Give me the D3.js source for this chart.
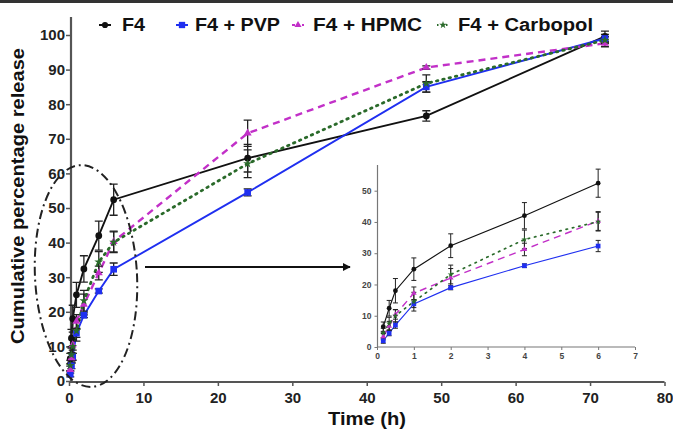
<!DOCTYPE html>
<html><head><meta charset="utf-8">
<script src="https://cdn.jsdelivr.net/npm/d3@7"></script>
<style>body{margin:0;background:#fff}svg{display:block;font-family:"Liberation Sans",Arial,sans-serif}</style>
</head><body><svg id="c" width="673" height="431"></svg>
<script>
const times = [0.17, 0.33, 0.5, 1, 2, 4, 6, 24, 48, 72];
const seriesNames = ["F4", "F4 + PVP", "F4 + HPMC", "F4 + Carbopol"];
const f4 = [6.5, 12.4, 18.0, 24.9, 32.4, 42.0, 52.4, 64.4, 76.6, 99.6];
const f4Err = [1.5, 2.5, 3.9, 3.6, 3.8, 4.2, 4.5, 4.0, 1.5, 1.5];
const pvp = [2.0, 4.4, 7.0, 13.8, 19.0, 26.0, 32.3, 54.5, 85.0, 99.0];
const pvpErr = [0.8, 0.8, 1.0, 1.2, 0.7, 0.6, 1.8, 1.0, 1.5, 1.2];
const hpmc = [3.3, 6.7, 10.4, 17.2, 22.1, 31.2, 40.3, 71.6, 90.6, 97.6];
const hpmcErr = [1.0, 1.5, 1.5, 2.0, 3.0, 2.0, 3.0, 3.8, 0.5, 1.0];
const carbopol = [4.5, 7.5, 10.0, 14.5, 23.2, 34.4, 40.1, 62.8, 86.0, 98.5];
const carbopolErr = [1.5, 2.0, 2.0, 3.0, 3.0, 3.0, 3.0, 4.0, 2.5, 1.0];
const xTicks = [0, 10, 20, 30, 40, 50, 60, 70, 80];
const yTicks = [0, 10, 20, 30, 40, 50, 60, 70, 80, 90, 100];
const insetXTicks = [0, 1, 2, 3, 4, 5, 6, 7];
const insetYTicks = [0, 10, 20, 30, 40, 50];

const styles = [
  {color:"#111111", sym:d3.symbolCircle, dash:null, lw:1.9},
  {color:"#1f2ff0", sym:d3.symbolSquare, dash:null, lw:1.9},
  {color:"#c230c8", sym:d3.symbolTriangle, dash:"7,5", lw:2.4},
  {color:"#2a6a2a", sym:d3.symbolStar, dash:"1.5,5", lw:2.8}
];
const series = [
  {vals:f4, err:f4Err}, {vals:pvp, err:pvpErr}, {vals:hpmc, err:hpmcErr}, {vals:carbopol, err:carbopolErr}
];

const svg = d3.select("#c");
svg.append("rect").attr("x",0).attr("y",0).attr("width",673).attr("height",3).attr("fill","#333");

const x = d3.scaleLinear().domain([0,80]).range([69,664.5]);
const y = d3.scaleLinear().domain([0,100]).range([381,35]);

const xAxisG = svg.append("g").attr("transform","translate(0,382)")
  .call(d3.axisBottom(x).tickValues(xTicks).tickSize(4).tickSizeOuter(0));
const yAxisG = svg.append("g").attr("transform","translate(71,0)")
  .call(d3.axisLeft(y).tickValues(yTicks).tickSize(5).tickSizeOuter(0));
[xAxisG, yAxisG].forEach(g=>{
  g.select(".domain").attr("stroke","#555").attr("stroke-width",2.2);
  g.selectAll(".tick line").attr("stroke","#555").attr("stroke-width",1.5);
  g.selectAll(".tick text").attr("fill","#222").attr("font-size",15).attr("font-weight","bold")
   .attr("font-family","Liberation Sans, Arial, sans-serif");
});
xAxisG.select(".domain").attr("d","M"+x(0)+",0H"+x(80));
yAxisG.select(".domain").attr("d","M0,"+y(0)+"V17");
xAxisG.selectAll(".tick text").attr("dy","0.9em");
yAxisG.selectAll(".tick text").attr("x",-6);

svg.append("text").attr("x",367).attr("y",425).attr("text-anchor","middle")
  .attr("font-size",18).attr("font-weight","bold").attr("fill","#111")
  .attr("textLength",78).attr("lengthAdjust","spacingAndGlyphs").text("Time (h)");
svg.append("text").attr("transform","translate(24,196) rotate(-90)").attr("text-anchor","middle")
  .attr("font-size",18).attr("font-weight","bold").attr("fill","#111")
  .attr("textLength",296).attr("lengthAdjust","spacingAndGlyphs").text("Cumulative percentage release");

function drawSeries(g, xs, ys, n, opts){
  series.forEach((s,i)=>{
    const st = styles[i];
    const pts = times.map((t,k)=>({t, v:s.vals[k], e:s.err[k]})).slice(0,n);
    g.append("path").datum(pts).attr("fill","none").attr("stroke",st.color)
      .attr("stroke-width",st.lw*opts.lwScale).attr("stroke-dasharray",st.dash)
      .attr("stroke-linecap", i===3?"round":"butt")
      .attr("d", d3.line().x(d=>xs(d.t)).y(d=>ys(d.v)));
    const eb = g.append("g");
    pts.forEach(d=>{
      const cx = xs(d.t), y1 = ys(d.v+d.e), y2 = ys(d.v-d.e), w = opts.cap;
      eb.append("path").attr("d",`M${cx},${y1}V${y2}M${cx-w},${y1}H${cx+w}M${cx-w},${y2}H${cx+w}`)
        .attr("stroke","#222").attr("stroke-width",opts.ebw).attr("fill","none");
    });
  });
  series.forEach((s,i)=>{
    const st = styles[i];
    const pts = times.map((t,k)=>({t, v:s.vals[k]})).slice(0,n);
    g.selectAll(null).data(pts).enter().append("path")
      .attr("transform",d=>`translate(${xs(d.t)},${ys(d.v)})`)
      .attr("d", d3.symbol().type(st.sym).size(opts.symSize[i]))
      .attr("fill",st.color);
  });
}
drawSeries(svg.append("g"), x, y, times.length, {lwScale:1, cap:4, ebw:1.3, symSize:[36,44,28,25]});

svg.append("ellipse").attr("cx",0).attr("cy",0).attr("rx",51).attr("ry",111)
  .attr("transform","translate(86,276) rotate(-3)")
  .attr("fill","none").attr("stroke","#222").attr("stroke-width",2)
  .attr("stroke-dasharray","9,4,2,4");

svg.append("defs").append("marker").attr("id","ah").attr("viewBox","0 0 10 10")
  .attr("refX",9).attr("refY",5).attr("markerWidth",4).attr("markerHeight",4)
  .attr("markerUnits","strokeWidth").attr("orient","auto")
  .append("path").attr("d","M0,0L10,5L0,10z").attr("fill","#111");
svg.append("line").attr("x1",145).attr("y1",267).attr("x2",350).attr("y2",267)
  .attr("stroke","#111").attr("stroke-width",2).attr("marker-end","url(#ah)");

const xi = d3.scaleLinear().domain([0,7]).range([377,635]);
const yi = d3.scaleLinear().domain([0,50]).range([347,190.7]);
const ixG = svg.append("g").attr("transform","translate(0,347)")
  .call(d3.axisBottom(xi).tickValues(insetXTicks).tickFormat(d3.format("d")).tickSize(3).tickSizeOuter(0));
const iyG = svg.append("g").attr("transform","translate(377.5,0)")
  .call(d3.axisLeft(yi).tickValues(insetYTicks).tickFormat(d3.format("d")).tickSize(3).tickSizeOuter(0));
[ixG, iyG].forEach(g=>{
  g.select(".domain").attr("stroke","#777").attr("stroke-width",1.2);
  g.selectAll(".tick line").attr("stroke","#777");
  g.selectAll(".tick text").attr("fill","#444").attr("font-size",8.5).attr("font-weight","bold")
   .attr("font-family","Liberation Sans, Arial, sans-serif");
});
ixG.select(".domain").attr("d","M"+xi(0)+",0H"+xi(7));
iyG.select(".domain").attr("d","M0,"+yi(0)+"V165");
drawSeries(svg.append("g"), xi, yi, 7, {lwScale:0.6, cap:2.5, ebw:1, symSize:[18,22,14,12]});

const legX = [105, 182, 298, 443];
const legTextX = [122, 195, 313, 458];
const legLen = [23, 85, 109, 135];
const lg = svg.append("g");
seriesNames.forEach((nm,i)=>{
  const st = styles[i];
  lg.append("line").attr("x1",legX[i]-6).attr("x2",legX[i]+6).attr("y1",25).attr("y2",25)
    .attr("stroke",st.color).attr("stroke-width",2).attr("stroke-dasharray",st.dash?(i===2?"3,2":"1.5,3"):null);
  lg.append("path").attr("transform",`translate(${legX[i]},25)`)
    .attr("d",d3.symbol().type(st.sym).size([30,40,22,18][i])).attr("fill",st.color);
  lg.append("text").attr("x",legTextX[i]).attr("y",31).attr("font-size",18).attr("font-weight","bold")
    .attr("fill","#111").attr("textLength",legLen[i]).attr("lengthAdjust","spacingAndGlyphs").text(nm);
});
</script></body></html>
